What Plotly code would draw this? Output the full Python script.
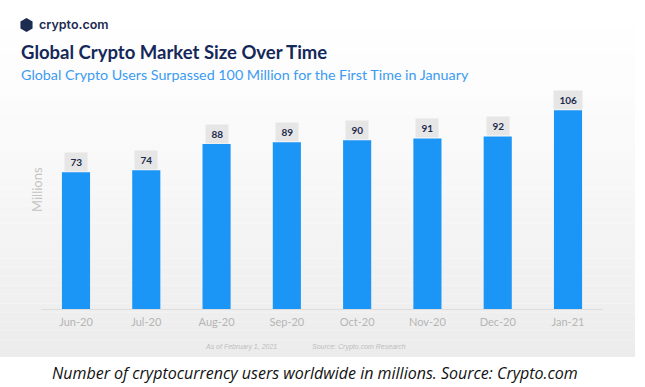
import plotly.graph_objects as go
import math

W, H = 645, 387

months = ["Jun-20", "Jul-20", "Aug-20", "Sep-20", "Oct-20", "Nov-20", "Dec-20", "Jan-21"]
users_millions = [73, 74, 88, 89, 90, 91, 92, 106]

title = "Global Crypto Market Size Over Time"
subtitle = "Global Crypto Users Surpassed 100 Million for the First Time in January"
caption = "Number of cryptocurrency users worldwide in millions. Source: Crypto.com"

def px(x):
    return x / W

def py(y):
    return 1 - y / H

fig = go.Figure()

fig.add_trace(go.Bar(
    x=months, y=users_millions,
    marker=dict(color="#1b95f6", line=dict(width=0)),
    hoverinfo="x+y",
))

shapes = []
# background panel with vertical gradient (white -> light grey)
n = 40
top, bot = 0, 357
for i in range(n):
    y0 = top + (bot - top) * i / n
    y1 = top + (bot - top) * (i + 1) / n
    t = (i / (n - 1)) ** 1.3
    v = int(round(255 - t * (255 - 236)))
    shapes.append(dict(type="rect", xref="paper", yref="paper",
                       x0=0, x1=px(635), y0=py(y1), y1=py(y0),
                       fillcolor=f"rgb({v},{v},{v})", line=dict(width=0), layer="below"))

# logo icon (simple hexagon mark)
cx, cy, r = 26.5, 25, 7
pts = []
for k in range(6):
    a = math.pi / 6 + k * math.pi / 3
    pts.append((px(cx + r * math.cos(a)), py(cy + r * math.sin(a))))
path = "M " + " L ".join(f"{x},{y}" for x, y in pts) + " Z"
shapes.append(dict(type="path", xref="paper", yref="paper", path=path,
                   fillcolor="#1c2b50", line=dict(width=0)))

annotations = []
# value pills
for m, v in zip(months, users_millions):
    annotations.append(dict(
        x=m, y=v, xref="x", yref="y", text=f"<b>&nbsp;{v}&nbsp;</b>",
        showarrow=False, yanchor="bottom", yshift=0,
        font=dict(family="Lato, Inter, sans-serif", size=10, color="#1d2b4e"),
        bgcolor="#e6e6e6", borderpad=3,
    ))

annotations += [
    dict(x=px(37), y=py(24), xref="paper", yref="paper", xanchor="left", yanchor="middle",
         text="crypto.com", showarrow=False,
         font=dict(family="Inter, Lato, sans-serif", size=12.5, weight=600, color="#1c2b50")),
    dict(x=px(19), y=py(52), xref="paper", yref="paper", xanchor="left", yanchor="middle",
         text=f"<b>{title}</b>", showarrow=False,
         font=dict(family="Lato, Inter, sans-serif", size=18.5, color="#142859")),
    dict(x=px(19), y=py(74), xref="paper", yref="paper", xanchor="left", yanchor="middle",
         text=subtitle, showarrow=False,
         font=dict(family="Lato, Inter, sans-serif", size=14.3, color="#3b9bf0")),
    dict(x=px(37), y=py(190), xref="paper", yref="paper", xanchor="center", yanchor="middle",
         text="Millions", textangle=-90, showarrow=False,
         font=dict(family="Lato, Inter, sans-serif", size=13, color="#c4c4c4")),
    dict(x=px(241), y=py(347), xref="paper", yref="paper", xanchor="center", yanchor="middle",
         text="<i>As of February 1, 2021</i>", showarrow=False,
         font=dict(family="Liberation Sans, Arial, sans-serif", size=7, color="#bdbdbd")),
    dict(x=px(359), y=py(347), xref="paper", yref="paper", xanchor="center", yanchor="middle",
         text="<i>Source: Crypto.com Research</i>", showarrow=False,
         font=dict(family="Liberation Sans, Arial, sans-serif", size=7, color="#bdbdbd")),
    dict(x=px(315), y=py(373), xref="paper", yref="paper", xanchor="center", yanchor="middle",
         text=f"<i>{caption}</i>", showarrow=False,
         font=dict(family="Open Sans, sans-serif", size=16, color="#111111")),
]

fig.update_layout(
    width=W, height=H,
    margin=dict(l=0, r=0, t=0, b=0),
    paper_bgcolor="white", plot_bgcolor="rgba(0,0,0,0)",
    bargap=0.6, showlegend=False,
    shapes=shapes, annotations=annotations,
    xaxis=dict(domain=[px(40.85), px(603.15)], range=[-0.5, 7.5],
               showline=True, linecolor="#dddddd", linewidth=1,
               showgrid=False, zeroline=False, ticks="", ticklabelstandoff=3,
               tickfont=dict(family="Lato, Inter, sans-serif", size=11, color="#b5b5b5")),
    yaxis=dict(domain=[py(309), py(84)], range=[0, 120], visible=False,
               showgrid=False, zeroline=False),
)

fig.write_html("out.html", config={"displayModeBar": False},
               post_script="document.body.style.margin='0';")
